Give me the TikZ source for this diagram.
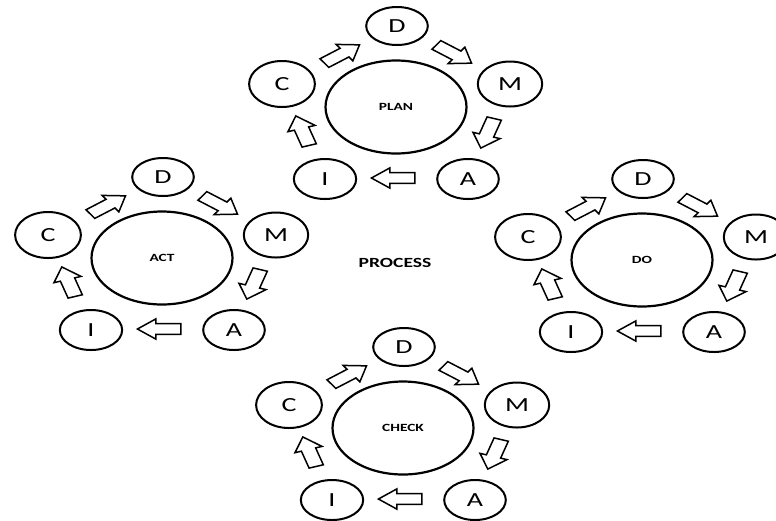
\documentclass[tikz,border=0pt]{standalone}
\usepackage{fontspec}
\setmainfont{Carlito}
\usetikzlibrary{shapes.geometric,shapes.arrows}
\begin{document}
\begin{tikzpicture}[x=0.714286pt, y=-1pt, xscale=1.4,
  every node/.style={transform shape},
  bigell/.style={ellipse, draw, line width=2.2pt, minimum width=100.7pt, minimum height=93pt, inner sep=0pt, font=\bfseries\fontsize{11}{12}\selectfont},
  smell/.style={ellipse, draw, line width=2pt, inner sep=0pt, font=\fontsize{20}{22}\selectfont},
  blk/.style={single arrow, draw, line width=1.5pt, minimum height=31pt, single arrow head extend=4.8pt, single arrow tip angle=75, inner sep=0pt, inner ysep=4.6pt, outer sep=0pt}
]
\useasboundingbox (0,0) rectangle (776,520);
\node[font=\bfseries\fontsize{14}{16}\selectfont] (proc) at (395,263) {PROCESS};
\foreach \n/\cx/\cy/\lab in {plan/396/107/PLAN, act/162/258/ACT, do/642/260/DO, check/403/428/CHECK}{
  \node[bigell] (\n-c) at (\cx,\cy) {\lab};
  \node[smell, minimum width=44pt, minimum height=38pt] (\n-D) at ({\cx+1},{\cy-81}) {D};
  \node[smell, minimum width=46pt, minimum height=45pt] (\n-M) at ({\cx+114},{\cy-23}) {M};
  \node[smell, minimum width=47pt, minimum height=46pt] (\n-C) at ({\cx-114},{\cy-23}) {C};
  \node[smell, minimum width=44.5pt, minimum height=40pt] (\n-I) at ({\cx-71},{\cy+72}) {I};
  \node[smell, minimum width=44pt, minimum height=40pt] (\n-A) at ({\cx+72},{\cy+72}) {A};
  \node[blk, rotate=36] (\n-cd) at ({\cx-58},{\cy-51}) {};
  \node[blk, rotate=-36] (\n-dm) at ({\cx+54},{\cy-55}) {};
  \node[blk, rotate=-108] (\n-ma) at ({\cx+93},{\cy+23}) {};
  \node[blk, rotate=180] (\n-ai) at ({\cx+2},{\cy+71}) {};
  \node[blk, rotate=108] (\n-ic) at ({\cx-92},{\cy+27}) {};
}
\end{tikzpicture}
\end{document}
